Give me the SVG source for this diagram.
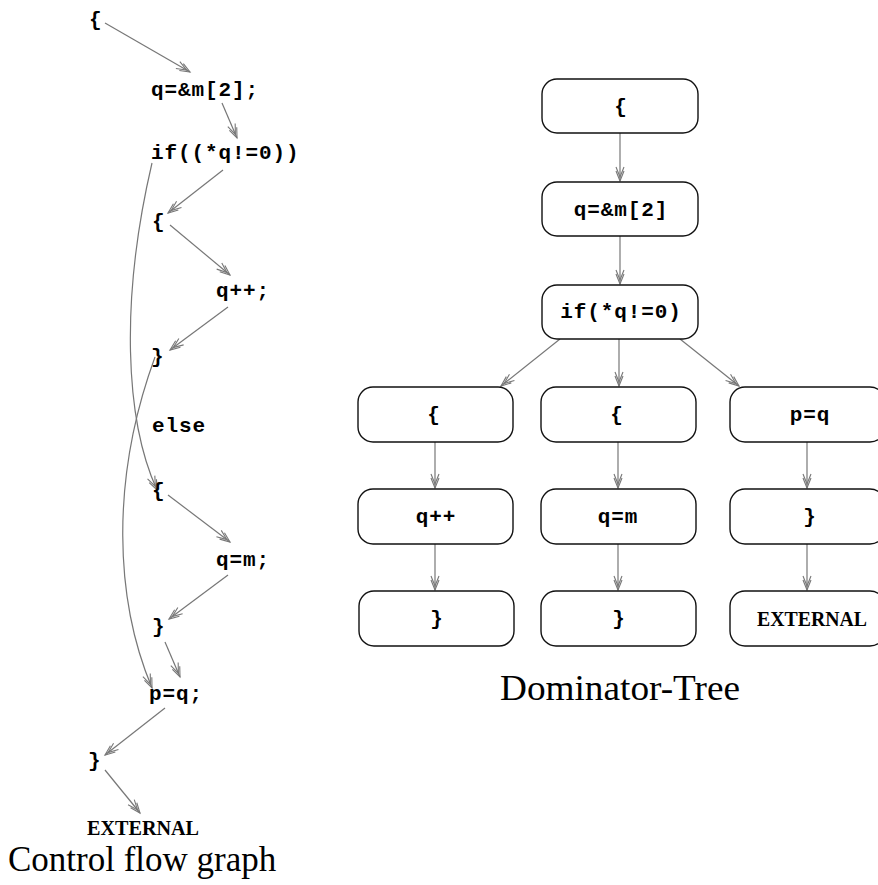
<svg xmlns="http://www.w3.org/2000/svg" width="878" height="885" viewBox="0 0 878 885">
  <style>
    .code { font-family: "Liberation Mono", "DejaVu Sans Mono", monospace; font-weight: bold; font-size: 21px; letter-spacing: 0.9px; fill: #000; }
    .ext { font-family: "Liberation Serif", "DejaVu Serif", serif; font-weight: bold; font-size: 20px; fill: #000; }
    .caption { font-family: "Liberation Serif", "DejaVu Serif", serif; font-size: 35px; fill: #000; }
    .box { fill: #fff; stroke: #111; stroke-width: 1.4; }
    .edge { fill: none; stroke: #777; stroke-width: 1.2; marker-end: url(#head); }
    .mid { text-anchor: middle; }
  </style>
  <defs>
    <marker id="head" markerUnits="userSpaceOnUse" markerWidth="20" markerHeight="12" viewBox="-16 -6 20 12" refX="0" refY="0" orient="auto">
      <path d="M-10,-4 L0,0 L-10,4 M-14,-4 L-4,0 L-14,4" fill="none" stroke="#777" stroke-width="1.1"/>
    </marker>
  </defs>
  <rect width="878" height="885" fill="#fff"/>

  <!-- Control flow graph: connectors -->
  <g id="cfg-edges">
    <path class="edge" d="M105,23 L190,72"/>
    <path class="edge" d="M222,103 L237,138"/>
    <path class="edge" d="M223,170 L168,213"/>
    <path class="edge" d="M170,225 L230,275"/>
    <path class="edge" d="M228,307 L170,350"/>
    <path class="edge" d="M152,163 C120,300 125,420 157,490"/>
    <path class="edge" d="M155,357 C110,480 115,600 152,688"/>
    <path class="edge" d="M168,495 L230,542"/>
    <path class="edge" d="M228,575 L169,619"/>
    <path class="edge" d="M165,642 L180,677"/>
    <path class="edge" d="M165,708 L105,755"/>
    <path class="edge" d="M105,770 L140,813"/>
  </g>

  <!-- Control flow graph: statements -->
  <g id="cfg-open"><text class="code" x="89" y="26">{</text></g>
  <g id="cfg-assign-q"><text class="code" x="151" y="96">q=&amp;m[2];</text></g>
  <g id="cfg-if"><text class="code" x="151" y="159">if((*q!=0))</text></g>
  <g id="cfg-then-open"><text class="code" x="152" y="228">{</text></g>
  <g id="cfg-incr"><text class="code" x="216" y="297">q++;</text></g>
  <g id="cfg-then-close"><text class="code" x="151" y="363">}</text></g>
  <g id="cfg-else"><text class="code" x="152" y="432">else</text></g>
  <g id="cfg-else-open"><text class="code" x="152" y="497">{</text></g>
  <g id="cfg-assign-m"><text class="code" x="216" y="566">q=m;</text></g>
  <g id="cfg-else-close"><text class="code" x="152" y="633">}</text></g>
  <g id="cfg-assign-p"><text class="code" x="149" y="700">p=q;</text></g>
  <g id="cfg-close"><text class="code" x="88" y="767">}</text></g>
  <g id="cfg-external"><text class="ext" x="87" y="835" textLength="112" lengthAdjust="spacingAndGlyphs">EXTERNAL</text></g>
  <text class="caption" x="8" y="871">Control flow graph</text>

  <!-- Dominator tree: connectors -->
  <g id="dom-edges">
    <path class="edge" d="M620,133 L620,181"/>
    <path class="edge" d="M620,236 L620,284"/>
    <path class="edge" d="M560,339 L501,386"/>
    <path class="edge" d="M619,339 L619,386"/>
    <path class="edge" d="M680,339 L739,386"/>
    <path class="edge" d="M435,442 L435,488"/>
    <path class="edge" d="M618,442 L618,488"/>
    <path class="edge" d="M807,442 L807,488"/>
    <path class="edge" d="M435,544 L435,590"/>
    <path class="edge" d="M618,544 L618,590"/>
    <path class="edge" d="M807,544 L807,590"/>
  </g>

  <!-- Dominator tree: nodes -->
  <g id="dom-entry">
    <rect class="box" x="542" y="79" width="156" height="54" rx="15"/>
    <text class="code mid" x="621" y="113">{</text>
  </g>
  <g id="dom-assign-q">
    <rect class="box" x="542" y="182" width="156" height="54" rx="15"/>
    <text class="code mid" x="621" y="216">q=&amp;m[2]</text>
  </g>
  <g id="dom-if">
    <rect class="box" x="542" y="285" width="156" height="54" rx="15"/>
    <text class="code mid" x="621" y="318">if(*q!=0)</text>
  </g>
  <g id="dom-then-open">
    <rect class="box" x="358" y="387" width="155" height="55" rx="15"/>
    <text class="code mid" x="434" y="421">{</text>
  </g>
  <g id="dom-else-open">
    <rect class="box" x="541" y="387" width="155" height="55" rx="15"/>
    <text class="code mid" x="617" y="421">{</text>
  </g>
  <g id="dom-assign-p">
    <rect class="box" x="730" y="387" width="155" height="55" rx="15"/>
    <text class="code mid" x="810" y="421">p=q</text>
  </g>
  <g id="dom-incr">
    <rect class="box" x="358" y="489" width="155" height="55" rx="15"/>
    <text class="code mid" x="436" y="523">q++</text>
  </g>
  <g id="dom-assign-m">
    <rect class="box" x="541" y="489" width="155" height="55" rx="15"/>
    <text class="code mid" x="618" y="523">q=m</text>
  </g>
  <g id="dom-close">
    <rect class="box" x="730" y="489" width="155" height="55" rx="15"/>
    <text class="code mid" x="810" y="523">}</text>
  </g>
  <g id="dom-then-close">
    <rect class="box" x="359" y="591" width="155" height="55" rx="15"/>
    <text class="code mid" x="437" y="625">}</text>
  </g>
  <g id="dom-else-close">
    <rect class="box" x="541" y="591" width="155" height="55" rx="15"/>
    <text class="code mid" x="619" y="625">}</text>
  </g>
  <g id="dom-external">
    <rect class="box" x="730" y="591" width="155" height="55" rx="15"/>
    <text class="ext mid" x="812" y="626" textLength="110" lengthAdjust="spacingAndGlyphs">EXTERNAL</text>
  </g>
  <text class="caption" x="500" y="700" textLength="240" lengthAdjust="spacingAndGlyphs">Dominator-Tree</text>
</svg>
